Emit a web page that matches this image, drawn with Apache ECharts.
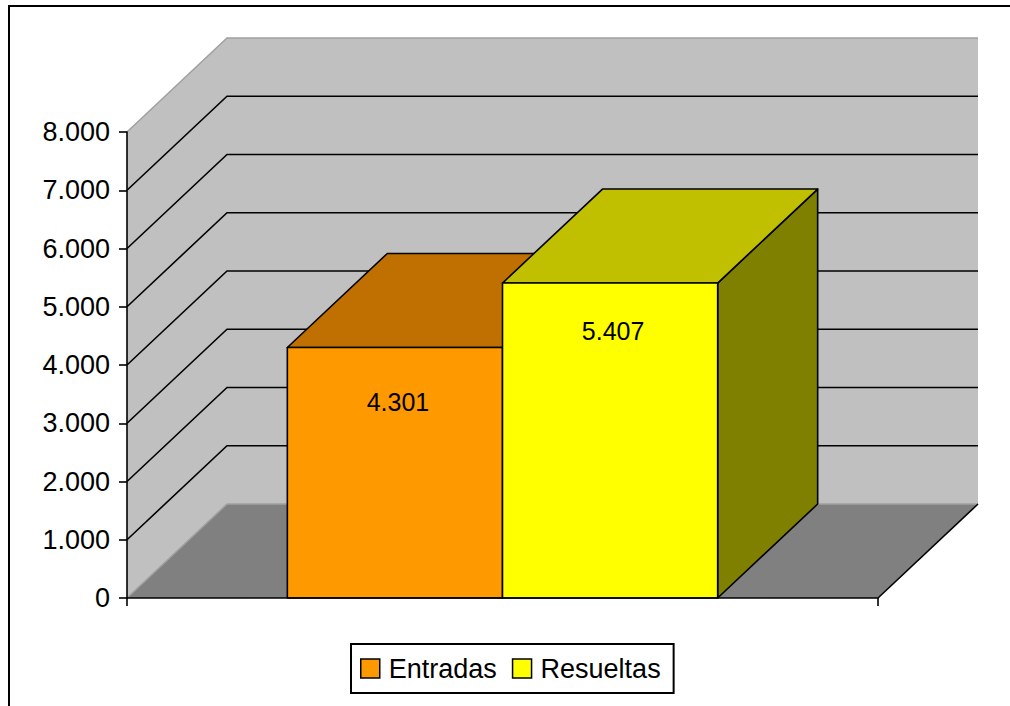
<!DOCTYPE html>
<html>
<head>
<meta charset="utf-8">
<script src="https://cdn.jsdelivr.net/npm/echarts@6/dist/echarts.min.js"></script>
<style>
  html, body { margin: 0; padding: 0; background: #fff; }
  #chart { width: 1010px; height: 706px; }
</style>
</head>
<body>
<div id="chart"></div>
<script>
// datos del gráfico
const categories = [''];
const seriesNames = ['Entradas', 'Resueltas'];
const entradas = [4301];
const resueltas = [5407];
const yMin = 0;
const yMax = 8000;
const yStep = 1000;

const FONT = '"Liberation Sans", Arial, sans-serif';
// desplazamiento de la profundidad 3D (px)
const DX = 100;
const DY = -94;
const BAR_RATIO = 0.2865; // ancho de barra / ancho de categoría

const colores = {
  Entradas: { front: '#ff9900', top: '#c07000', side: '#a05c00' },
  Resueltas: { front: '#ffff00', top: '#c0c000', side: '#808000' }
};

function fmt(v) {
  return String(v).replace(/\B(?=(\d{3})+(?!\d))/g, '.');
}

// paredes, suelo y líneas de división
function renderWalls(params, api) {
  const cs = params.coordSys;
  const x0 = cs.x, x1 = cs.x + cs.width;
  const yb = api.coord([0, yMin])[1];
  const yt = api.coord([0, yMax])[1];
  const ch = [];
  ch.push({ type: 'polygon', shape: { points: [[x0, yb], [x0, yt], [x0 + DX, yt + DY], [x0 + DX, yb + DY]] }, style: { fill: '#c0c0c0' } });
  ch.push({ type: 'rect', shape: { x: x0 + DX, y: yt + DY, width: x1 - x0, height: yb - yt }, style: { fill: '#c0c0c0' } });
  ch.push({ type: 'polygon', shape: { points: [[x0, yb], [x1, yb], [x1 + DX, yb + DY], [x0 + DX, yb + DY]] }, style: { fill: '#808080' } });
  for (let v = yMin + yStep; v < yMax; v += yStep) {
    const y = api.coord([0, v])[1];
    ch.push({ type: 'polyline', shape: { points: [[x0, y], [x0 + DX, y + DY], [x1 + DX, y + DY]] }, style: { stroke: '#000', lineWidth: 1.6, fill: null } });
  }
  ch.push({ type: 'polyline', shape: { points: [[x0, yt], [x0 + DX, yt + DY], [x1 + DX, yt + DY]] }, style: { stroke: '#a0a0a0', lineWidth: 1.5, fill: null } });
  ch.push({ type: 'polyline', shape: { points: [[x0, yb], [x0 + DX, yb + DY], [x1 + DX, yb + DY]] }, style: { stroke: '#a0a0a0', lineWidth: 1.5, fill: null } });
  ch.push({ type: 'line', shape: { x1: x1, y1: yb, x2: x1 + DX, y2: yb + DY }, style: { stroke: '#000', lineWidth: 1.6 } });
  return { type: 'group', children: ch };
}

// barra 3D
function makeBar(index, col, labelDy) {
  return function (params, api) {
    const c = api.value(0);
    const val = api.value(1);
    const base = api.coord([c, 0]);
    const top = api.coord([c, val]);
    const catW = api.size([1, 0])[0];
    const bw = catW * BAR_RATIO;
    const xl = base[0] - bw * seriesNames.length / 2 + bw * index;
    const xr = xl + bw;
    const yb = base[1], yt = top[1];
    const line = { stroke: '#000', lineWidth: 1.6, lineJoin: 'round' };
    return {
      type: 'group',
      children: [
        { type: 'polygon', shape: { points: [[xr, yb], [xr, yt], [xr + DX, yt + DY], [xr + DX, yb + DY]] }, style: Object.assign({ fill: col.side }, line) },
        { type: 'polygon', shape: { points: [[xl, yt], [xr, yt], [xr + DX, yt + DY], [xl + DX, yt + DY]] }, style: Object.assign({ fill: col.top }, line) },
        { type: 'rect', shape: { x: xl, y: yt, width: bw, height: yb - yt }, style: Object.assign({ fill: col.front }, line) },
        {
          type: 'text', x: (xl + xr) / 2 + 3, y: yt + labelDy,
          style: { text: fmt(val), fill: '#000', font: '25px ' + FONT, align: 'center', verticalAlign: 'middle', textAlign: 'center', textVerticalAlign: 'middle' }
        }
      ]
    };
  };
}

const chart = echarts.init(document.getElementById('chart'), null, { renderer: 'svg' });

chart.setOption({
  animation: false,
  backgroundColor: '#fff',
  graphic: [{
    type: 'rect', shape: { x: 9, y: 6, width: 1100, height: 800 },
    style: { fill: null, stroke: '#000', lineWidth: 2 }, z: 100
  }],
  grid: { left: 127, right: 132, top: 132, bottom: 108 },
  legend: {
    left: 351, top: 644,
    padding: [11, 13, 11, 9],
    itemWidth: 19, itemHeight: 19, itemGap: 15,
    borderColor: '#000', borderWidth: 2,
    textStyle: { fontSize: 27, fontFamily: FONT, color: '#000', padding: [0, 0, 0, 4] },
    data: [
      { name: 'Entradas', icon: 'rect', itemStyle: { color: colores.Entradas.front, borderColor: '#000', borderWidth: 1.5 } },
      { name: 'Resueltas', icon: 'rect', itemStyle: { color: colores.Resueltas.front, borderColor: '#000', borderWidth: 1.5 } }
    ]
  },
  xAxis: {
    type: 'category',
    data: categories,
    boundaryGap: true,
    z: 10,
    axisLine: { lineStyle: { color: '#000', width: 1.6 } },
    axisTick: { show: true, length: 8, inside: false, lineStyle: { color: '#000', width: 1.6 } },
    axisLabel: { show: false },
    splitLine: { show: false }
  },
  yAxis: {
    type: 'value',
    min: yMin, max: yMax, interval: yStep,
    z: 10,
    axisLine: { show: true, lineStyle: { color: '#000', width: 1.6 } },
    axisTick: { show: true, length: 8, inside: false, lineStyle: { color: '#000', width: 1.6 } },
    axisLabel: { margin: 17, fontSize: 27, fontFamily: FONT, color: '#000', formatter: fmt },
    splitLine: { show: false }
  },
  series: [
    {
      name: 'fondo', type: 'custom', silent: true, z: 1,
      renderItem: renderWalls, data: [[0, 0]]
    },
    {
      name: 'Entradas', type: 'custom', z: 2,
      itemStyle: { color: colores.Entradas.front },
      renderItem: makeBar(0, colores.Entradas, 55),
      data: entradas.map((v, i) => [i, v])
    },
    {
      name: 'Resueltas', type: 'custom', z: 3,
      itemStyle: { color: colores.Resueltas.front },
      renderItem: makeBar(1, colores.Resueltas, 48),
      data: resueltas.map((v, i) => [i, v])
    }
  ]
});
</script>
</body>
</html>
